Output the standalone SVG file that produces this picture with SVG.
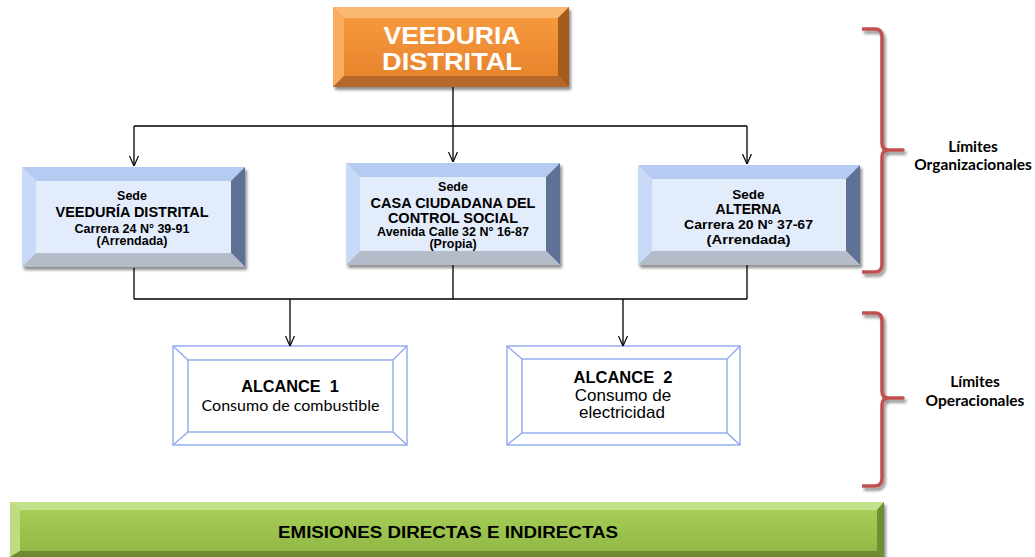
<svg xmlns="http://www.w3.org/2000/svg" width="1035" height="557" viewBox="0 0 1035 557">
<defs>
<filter id="sh" x="-10%" y="-10%" width="120%" height="130%">
<feGaussianBlur in="SourceAlpha" stdDeviation="1.5"/>
<feOffset dx="2" dy="3" result="b"/>
<feComponentTransfer><feFuncA type="linear" slope="0.45"/></feComponentTransfer>
<feMerge><feMergeNode/><feMergeNode in="SourceGraphic"/></feMerge>
</filter>
<linearGradient id="gOr" x1="0" y1="0" x2="0" y2="1"><stop offset="0" stop-color="#FA9C40"/><stop offset="1" stop-color="#E4812A"/></linearGradient>
<linearGradient id="gGr" x1="0" y1="0" x2="0" y2="1"><stop offset="0" stop-color="#AAD257"/><stop offset="1" stop-color="#8FB546"/></linearGradient>
<marker id="ar" viewBox="0 0 10 10" refX="10" refY="5" markerWidth="10" markerHeight="10" markerUnits="userSpaceOnUse" orient="auto">
<path d="M0,0.5 L10,5 L0,9.5" fill="none" stroke="#000" stroke-width="1.2"/>
</marker>
</defs>
<style>
.ln{fill:none;stroke:#000;stroke-width:1.3}
.br{fill:none;stroke:#C0504D;stroke-width:3.5;stroke-linejoin:round}
.sb{font-family:"Liberation Sans",Arial,sans-serif;font-weight:bold;fill:#000;text-anchor:middle}
.sr{font-family:"Liberation Sans",Arial,sans-serif;fill:#000;text-anchor:middle}
.lb{font-family:Lato,"Open Sans",sans-serif;font-weight:bold;fill:#000;text-anchor:middle;font-size:15.5px}
.al{fill:#fff;stroke:#8DA8EE;stroke-width:1.4}
.bt{fill:#B5CBF2}.bl{fill:#C8DAF8}.brr{fill:#5E7295}.bb{fill:#B4BBC9}.bf{fill:#E3ECFB}
</style>
<rect width="1035" height="557" fill="#fff"/>

<g id="veeduria">
<g filter="url(#sh)">
<rect x="333" y="7" width="236" height="80" fill="url(#gOr)"/>
<polygon points="333,7 569,7 558,18 344,18" fill="#FBB870"/>
<polygon points="333,7 344,18 344,76 333,87" fill="#F9AC60"/>
<polygon points="569,7 558,18 558,76 569,87" fill="#A35B1F"/>
<polygon points="333,87 569,87 558,76 344,76" fill="#B5682A"/>
</g>
<text class="sb" x="452" y="43.5" font-size="24.5" textLength="137" lengthAdjust="spacingAndGlyphs" style="fill:#fff">VEEDURIA</text>
<text class="sb" x="452" y="70" font-size="24.5" textLength="140" lengthAdjust="spacingAndGlyphs" style="fill:#fff">DISTRITAL</text>
</g>

<g id="sede1">
<g filter="url(#sh)">
<rect x="22" y="167" width="223" height="100" class="bf"/>
<polygon points="22,167 245,167 231,181 36,181" class="bt"/>
<polygon points="22,167 36,181 36,253 22,267" class="bl"/>
<polygon points="245,167 231,181 231,253 245,267" class="brr"/>
<polygon points="22,267 245,267 231,253 36,253" class="bb"/>
</g>
<text class="sb" x="132" y="200" font-size="12.5">Sede</text>
<text class="sb" x="132" y="216.5" font-size="14.5">VEEDURÍA DISTRITAL</text>
<text class="sb" x="132" y="232.5" font-size="12.5">Carrera 24 N° 39-91</text>
<text class="sb" x="132" y="245" font-size="12.5">(Arrendada)</text>
</g>

<g id="sede2">
<g filter="url(#sh)">
<rect x="346" y="163" width="214" height="102" class="bf"/>
<polygon points="346,163 560,163 546,177 360,177" class="bt"/>
<polygon points="346,163 360,177 360,251 346,265" class="bl"/>
<polygon points="560,163 546,177 546,251 560,265" class="brr"/>
<polygon points="346,265 560,265 546,251 360,251" class="bb"/>
</g>
<text class="sb" x="453" y="190.5" font-size="12.5">Sede</text>
<text class="sb" x="453" y="207.5" font-size="14.5">CASA CIUDADANA DEL</text>
<text class="sb" x="453" y="222.5" font-size="14.5">CONTROL SOCIAL</text>
<text class="sb" x="453" y="236" font-size="12.5">Avenida Calle 32 N° 16-87</text>
<text class="sb" x="453" y="248" font-size="12.5">(Propia)</text>
</g>

<g id="sede3">
<g filter="url(#sh)">
<rect x="638" y="165" width="222" height="100" class="bf"/>
<polygon points="638,165 860,165 846,179 652,179" class="bt"/>
<polygon points="638,165 652,179 652,251 638,265" class="bl"/>
<polygon points="860,165 846,179 846,251 860,265" class="brr"/>
<polygon points="638,265 860,265 846,251 652,251" class="bb"/>
</g>
<text class="sb" x="748.5" y="198.5" font-size="13.5">Sede</text>
<text class="sb" x="748.5" y="213.5" font-size="14">ALTERNA</text>
<text class="sb" x="748.5" y="229" font-size="13.5" textLength="129" lengthAdjust="spacingAndGlyphs">Carrera 20 N° 37-67</text>
<text class="sb" x="748.5" y="244" font-size="13.5" textLength="84" lengthAdjust="spacingAndGlyphs">(Arrendada)</text>
</g>

<g id="alcance1">
<rect x="173" y="346" width="234" height="99" class="al"/>
<rect x="188" y="360" width="205" height="72" class="al"/>
<path d="M173,346 L188,360 M407,346 L393,360 M173,445 L188,432 M407,445 L393,432" class="al"/>
<text class="sb" x="290" y="392" font-size="16.3" xml:space="preserve">ALCANCE  1</text>
<text x="290.5" y="411" font-size="16" font-family="Lato,'Open Sans',sans-serif" text-anchor="middle" fill="#000">Consumo de combustible</text>
</g>

<g id="alcance2">
<rect x="507" y="346" width="233" height="99" class="al"/>
<rect x="522" y="359" width="205" height="74" class="al"/>
<path d="M507,346 L522,359 M740,346 L727,359 M507,445 L522,433 M740,445 L727,433" class="al"/>
<text class="sb" x="623" y="383" font-size="16.5" xml:space="preserve">ALCANCE  2</text>
<text class="sr" x="623" y="401" font-size="17">Consumo de</text>
<text class="sr" x="622" y="418" font-size="17">electricidad</text>
</g>

<g id="emisiones">
<g filter="url(#sh)">
<rect x="10" y="502" width="874" height="55" fill="url(#gGr)"/>
<polygon points="10,502 884,502 877,510 20,510" fill="#C4E18B"/>
<polygon points="10,502 20,510 20,551 10,557" fill="#BEDD80"/>
<polygon points="884,502 877,510 877,551 884,557" fill="#6F8F33"/>
<polygon points="10,557 884,557 877,551 20,551" fill="#6D8A31"/>
</g>
<text class="sb" x="448" y="538" font-size="16" textLength="340" lengthAdjust="spacingAndGlyphs">EMISIONES DIRECTAS E INDIRECTAS</text>
</g>

<g id="limites-org">
<path class="br" filter="url(#sh)" d="M862,29 H875 Q882,29 882,37 V143 Q882,150 889,150 H903 H889 Q882,150 882,157 V264 Q882,272 875,272 H862"/>
<text class="lb" x="973" y="152">Límites</text>
<text class="lb" x="973" y="170">Organizacionales</text>
</g>

<g id="limites-op">
<path class="br" filter="url(#sh)" d="M862,313 H875 Q882,313 882,321 V391 Q882,398 889,398 H903 H889 Q882,398 882,405 V478 Q882,486 875,486 H862"/>
<text class="lb" x="975" y="387">Límites</text>
<text class="lb" x="975" y="406">Operacionales</text>
</g>

<g id="connectors">
<path class="ln" d="M453,87 V126 M134,126 H747"/>
<path class="ln" d="M134,126 V166" marker-end="url(#ar)"/>
<path class="ln" d="M453,126 V162" marker-end="url(#ar)"/>
<path class="ln" d="M747,126 V164" marker-end="url(#ar)"/>
<path class="ln" d="M134,268 V299 M453,265 V299 M747,265 V299 M134,299 H747"/>
<path class="ln" d="M290,299 V346" marker-end="url(#ar)"/>
<path class="ln" d="M623,299 V346" marker-end="url(#ar)"/>
</g>
</svg>
